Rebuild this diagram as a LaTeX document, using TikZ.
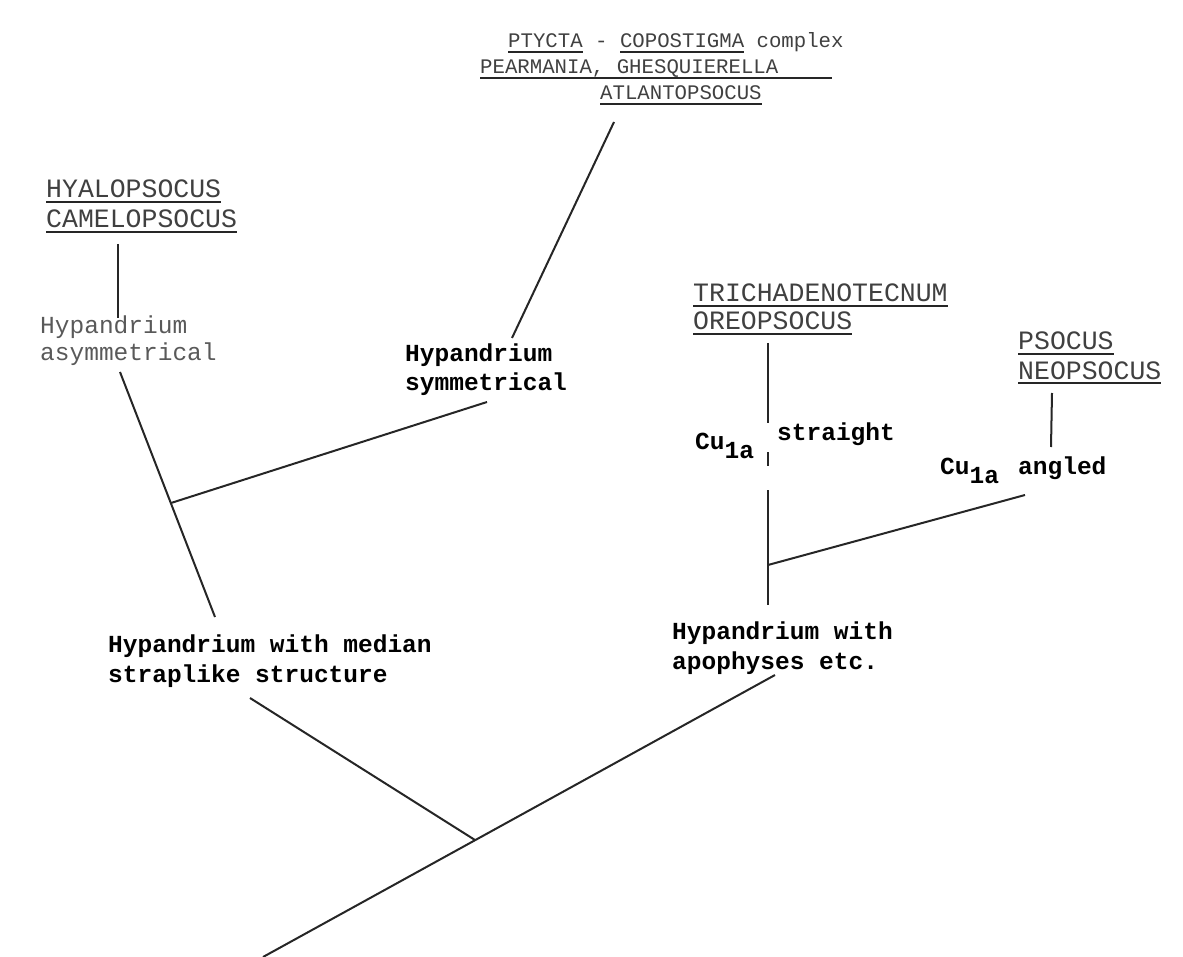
\documentclass[tikz,border=0pt]{standalone}
\usepackage{fontspec}
\setmonofont{Liberation Mono}

% typed underline: a heavy rule under the word
\newcommand\typedul[1]{\setbox0\hbox{#1}\rlap{\color{black!85}\rule[-5pt]{\wd0}{2.2pt}}\box0\relax}

\begin{document}
\begin{tikzpicture}[x=1pt, y=-1pt,
  group/.style={font=\fontsize{20.7}{24}\selectfont\ttfamily, text=black!75, inner sep=0pt, anchor=base west},
  genus/.style={font=\fontsize{26.5}{30}\selectfont\ttfamily, text=black!75, inner sep=0pt, anchor=base west},
  trait/.style={font=\fontsize{24.5}{30}\selectfont\ttfamily\bfseries, inner sep=0pt, anchor=base west},
  faint/.style={font=\fontsize{24.5}{30}\selectfont\ttfamily, text=black!65, inner sep=0pt, anchor=base west},
  branch/.style={line width=2pt, black!85}
]
\useasboundingbox (0,0) rectangle (1183,957);

% genus groups
\node[group] (topA) at (508,48) {\typedul{PTYCTA} - \typedul{COPOSTIGMA} complex};
\node[group] (topB) at (480,74) {\typedul{PEARMANIA, GHESQUIERELLA\hspace*{54pt}}};
\node[group] (topC) at (600,100) {\typedul{ATLANTOPSOCUS}};

\node[genus] (hyaloA) at (46,198) {\typedul{HYALOPSOCUS}};
\node[genus] (hyaloB) at (46,228) {\typedul{CAMELOPSOCUS}};

\node[genus] (trichA) at (693,302) {\typedul{TRICHADENOTECNUM}};
\node[genus] (trichB) at (693,330) {\typedul{OREOPSOCUS}};

\node[genus] (psocA) at (1018,350) {\typedul{PSOCUS}};
\node[genus] (psocB) at (1018,379) {\typedul{NEOPSOCUS}};

% characters
\node[faint] (asymA) at (40,334) {Hypandrium};
\node[faint] (asymB) at (40,361) {asymmetrical};

\node[trait] (symA) at (405,362) {Hypandrium};
\node[trait] (symB) at (405,390) {symmetrical};

\node[trait] (cuS) at (695,449) {Cu\raisebox{-9pt}{1a}};
\node[trait] (straight) at (777,440) {straight};
\node[trait] (cuA) at (940,474) {Cu\raisebox{-9pt}{1a}};
\node[trait] (angled) at (1018,474) {angled};

\node[trait] (apophA) at (672,639) {Hypandrium with};
\node[trait] (apophB) at (672,669) {apophyses etc.};

\node[trait] (medA) at (108,652) {Hypandrium with median};
\node[trait] (medB) at (108,682) {straplike structure};

% line ends and forks
\coordinate (topEnd) at (614,122);
\coordinate (symTop) at (512,338);
\coordinate (hyaloEnd) at (118,244);
\coordinate (asymTop) at (118,318);
\coordinate (asymEnd) at (120,372);
\coordinate (medTop) at (215,617);
\coordinate (jA) at (171,503);
\coordinate (symEnd) at (487,402);
\coordinate (trichEnd) at (768,343);
\coordinate (cuTop) at (768,423);
\coordinate (cuBarA) at (768,452);
\coordinate (cuBarB) at (768,466);
\coordinate (cuLow) at (768,490);
\coordinate (apophTop) at (768,605);
\coordinate (jB) at (768,565);
\coordinate (psocEnd) at (1052,393);
\coordinate (angTop) at (1051,447);
\coordinate (angEnd) at (1025,495);
\coordinate (medEnd) at (250,698);
\coordinate (jR) at (475,840);
\coordinate (root) at (263,957);
\coordinate (apophEnd) at (775,675);

% branches
\draw[branch] (topEnd) -- (symTop);
\draw[branch] (hyaloEnd) -- (asymTop);
\draw[branch] (asymEnd) -- (medTop);
\draw[branch] (jA) -- (symEnd);
\draw[branch] (trichEnd) -- (cuTop);
\draw[branch] (cuBarA) -- (cuBarB);
\draw[branch] (cuLow) -- (apophTop);
\draw[branch] (psocEnd) -- (angTop);
\draw[branch] (angEnd) -- (jB);
\draw[branch] (medEnd) -- (jR);
\draw[branch] (root) -- (apophEnd);

\end{tikzpicture}
\end{document}
